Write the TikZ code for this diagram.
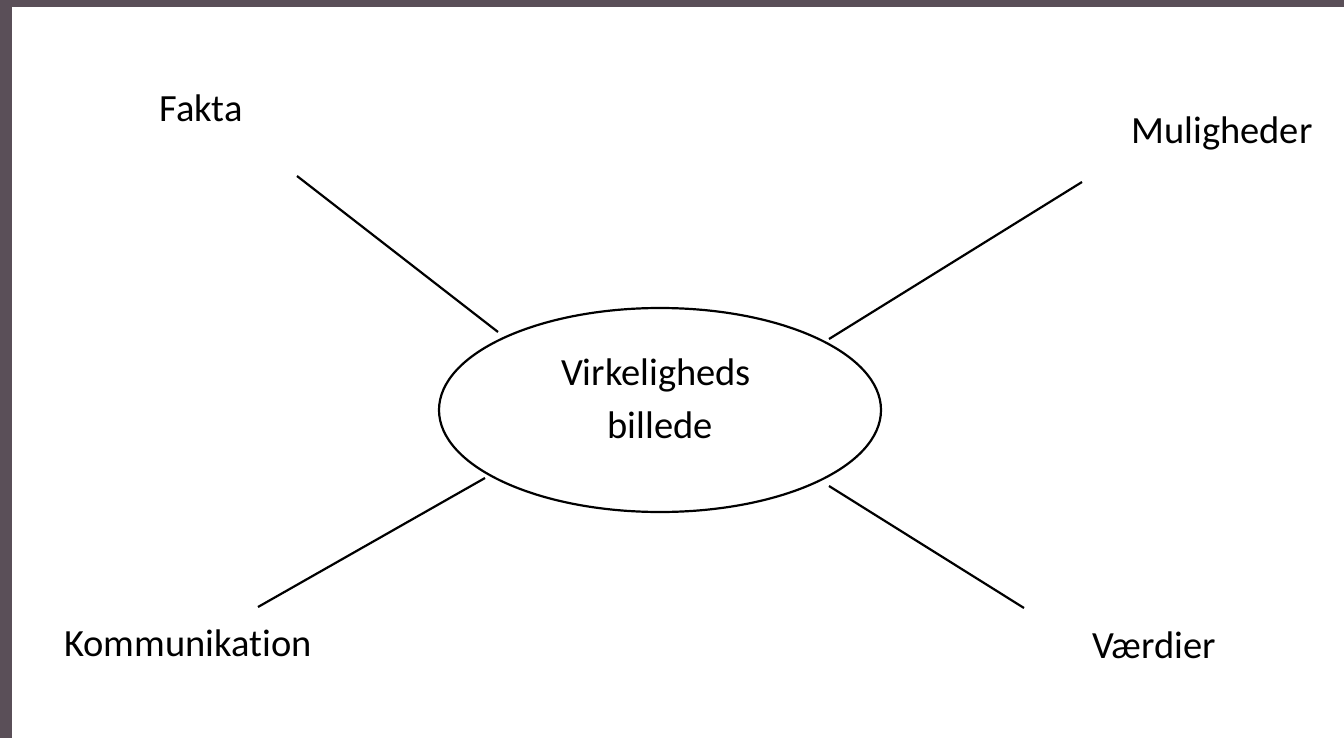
\documentclass[tikz,border=0pt]{standalone}
\usepackage{fontspec}
\setmainfont{Carlito}[Ligatures={NoCommon}]
\usetikzlibrary{shapes.geometric}
\definecolor{bgframe}{HTML}{5A4F58}
\begin{document}
\begin{tikzpicture}[x=1pt,y=-1pt,
  lbl/.style={font=\fontsize{38.5}{46}\selectfont, inner sep=0pt},
  conn/.style={line width=2.2pt, black}]
\useasboundingbox (0,0) rectangle (1344,738);
\fill[bgframe] (0,0) rectangle (1344,738);
\fill[white] (12,7) rectangle (1344,738);
\node[ellipse, draw, line width=2.2pt, minimum width=442pt, minimum height=204pt, inner sep=0pt] (core) at (660,410) {};
\node[lbl] (v1) at (656,375) {Virkeligheds};
\node[lbl] (v2) at (660,425) {billede};
\node[lbl] (fakta) at (201,108) {Fakta};
\node[lbl] (mul) at (1222,133) {Muligheder};
\node[lbl] (komm) at (188,643) {Kommunikation};
\node[lbl] (vaerd) at (1154,645) {Værdier};
\coordinate (f1) at (297,176); \coordinate (f2) at (498,332);
\coordinate (m1) at (1082,182); \coordinate (m2) at (829,339);
\coordinate (k1) at (258,607); \coordinate (k2) at (485,478);
\coordinate (d1) at (1024,608); \coordinate (d2) at (829,486);
\draw[conn] (f1) -- (f2);
\draw[conn] (m1) -- (m2);
\draw[conn] (k1) -- (k2);
\draw[conn] (d1) -- (d2);
\end{tikzpicture}
\end{document}
